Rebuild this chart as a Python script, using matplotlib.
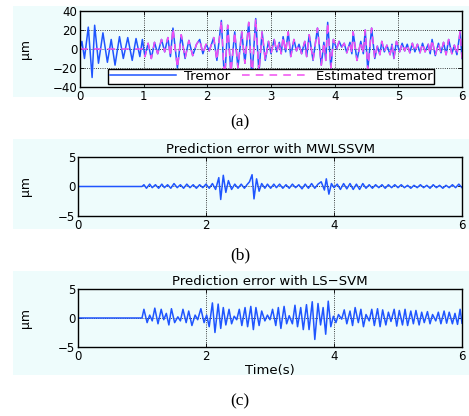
import numpy as np
import matplotlib as mpl
mpl.use("Agg")
import matplotlib.pyplot as plt
from matplotlib.patches import Rectangle

plt.rcParams["font.family"] = ["DejaVu Sans"]

# tremor extrema: time (s), amplitude (um)
tremor_t = [0.00, 0.03, 0.07, 0.13, 0.19, 0.23, 0.29, 0.36, 0.43, 0.49, 0.55, 0.62, 0.68, 0.75,
            0.82, 0.88, 0.94, 0.98, 1.02, 1.07, 1.12, 1.17, 1.22, 1.28, 1.33, 1.38, 1.42, 1.46,
            1.53, 1.59, 1.65, 1.71, 1.77, 1.83, 1.88, 1.93, 1.98, 2.03, 2.10, 2.15, 2.22, 2.27,
            2.32, 2.37, 2.43, 2.48, 2.54, 2.59, 2.65, 2.70, 2.76, 2.81, 2.86, 2.91, 2.96, 3.00,
            3.05, 3.09, 3.13, 3.16, 3.19, 3.23, 3.27, 3.31, 3.36, 3.40, 3.44, 3.48, 3.53, 3.56,
            3.60, 3.66, 3.73, 3.79, 3.83, 3.86, 3.89, 3.94, 3.98, 4.03, 4.07, 4.11, 4.15, 4.19,
            4.24, 4.27, 4.29, 4.35, 4.41, 4.45, 4.48, 4.52, 4.58, 4.63, 4.67, 4.71, 4.74, 4.78,
            4.82, 4.87, 4.90, 4.93, 4.97, 5.02, 5.06, 5.10, 5.14, 5.18, 5.22, 5.26, 5.30, 5.34,
            5.38, 5.42, 5.47, 5.50, 5.53, 5.58, 5.63, 5.67, 5.71, 5.75, 5.79, 5.84, 5.88, 5.92,
            5.97, 6.00]
tremor_v = [0, 8, -10, 23, -30, 25, -15, 17, -14, 10, -17, 13, -10, 12,
            -12, 11, -8, 10, -8, 6, -10, 7, -5, 10, -3, 12, -8, 22,
            -20, 15, -10, 9, -7, 5, 10, -5, 5, -2, 12, -12, 30, -35,
            25, -25, 18, -20, 18, -15, 28, -30, 32, -25, 18, -12, 8, -5,
            10, -3, 7, -5, 13, -3, 18, -8, 10, -2, 5, -5, 8, -8,
            15, -12, 22, -17, 7, -12, 28, -20, 10, 0, 8, 2, 6, -4,
            7, -5, 18, -12, 8, -5, 20, -22, 22, -10, 3, -6, 8, -3,
            4, -6, 5, -10, 8, -3, 6, -2, 5, -4, 6, -3, 5, -4,
            6, -3, 5, -5, 10, -7, 6, -4, 7, -6, 10, -5, 4, -6,
            18, -10]
est_start = 1.0   # estimator output is zero before 1 s

# prediction error, MWLSSVM (panel b)
err_mw_t = [0.00, 1.00, 1.03, 1.07, 1.12, 1.16, 1.21, 1.26, 1.31, 1.35, 1.40, 1.45, 1.50, 1.55,
            1.60, 1.65, 1.70, 1.75, 1.80, 1.85, 1.90, 1.95, 2.00, 2.05, 2.10, 2.15, 2.20, 2.23,
            2.27, 2.31, 2.35, 2.40, 2.45, 2.50, 2.55, 2.60, 2.64, 2.68, 2.72, 2.75, 2.79, 2.83,
            2.87, 2.92, 2.96, 3.01, 3.06, 3.10, 3.15, 3.20, 3.25, 3.30, 3.35, 3.40, 3.45, 3.50,
            3.55, 3.60, 3.65, 3.70, 3.75, 3.80, 3.85, 3.88, 3.92, 3.96, 4.00, 4.05, 4.10, 4.15,
            4.20, 4.25, 4.30, 4.35, 4.40, 4.45, 4.50, 4.55, 4.60, 4.65, 4.70, 4.75, 4.80, 4.85,
            4.90, 4.95, 5.00, 5.05, 5.10, 5.15, 5.20, 5.25, 5.30, 5.35, 5.40, 5.45, 5.50, 5.55,
            5.60, 5.65, 5.70, 5.75, 5.80, 5.85, 5.90, 5.95, 6.00]
err_mw_v = [0, 0, 0.3, -0.3, 0.4, -0.2, 0.3, -0.3, 0.4, -0.2, 0.3, -0.3, 0.5, -0.2,
            0.3, -0.3, 0.4, -0.2, 0.3, -0.3, 0.3, -0.2, 0.4, -0.3, 0.5, -0.5, 1.5, -2.2,
            1.9, -1.0, 1.0, -0.5, 0.4, -0.3, 0.4, -0.3, 0.3, 0.8, 2.0, -2.1, 1.3, -0.8,
            0.5, -0.3, 0.4, -0.3, 0.4, -0.2, 0.4, -0.3, 0.3, -0.3, 0.4, -0.2, 0.3, -0.4,
            0.4, -0.3, 0.5, -0.3, 0.4, 0.8, -0.6, 1.3, -1.3, 0.5, -0.2, 0.4, -0.5, 0.5,
            -0.4, 0.5, -0.5, 0.4, -0.5, 0.5, -0.3, 0.3, -0.3, 0.3, -0.2, 0.3, -0.3, 0.3,
            -0.2, 0.3, -0.2, 0.3, -0.2, 0.2, -0.3, 0.2, -0.2, 0.3, -0.2, 0.2, -0.3, 0.3,
            -0.2, 0.2, -0.3, 0.2, -0.2, 0.3, -0.2, 0.4, -0.2]

# prediction error, LS-SVM (panel c)
err_ls_t = [0.00, 1.00, 1.03, 1.08, 1.12, 1.16, 1.20, 1.25, 1.30, 1.34, 1.38, 1.42, 1.46, 1.51,
            1.56, 1.60, 1.64, 1.69, 1.73, 1.78, 1.83, 1.87, 1.92, 1.97, 2.01, 2.05, 2.10, 2.14,
            2.19, 2.23, 2.27, 2.31, 2.36, 2.40, 2.44, 2.48, 2.52, 2.56, 2.61, 2.65, 2.70, 2.74,
            2.78, 2.83, 2.87, 2.92, 2.96, 3.00, 3.04, 3.09, 3.13, 3.17, 3.22, 3.26, 3.30, 3.35,
            3.39, 3.43, 3.48, 3.52, 3.57, 3.61, 3.66, 3.70, 3.75, 3.79, 3.83, 3.87, 3.91, 3.95,
            3.99, 4.03, 4.07, 4.12, 4.16, 4.20, 4.25, 4.29, 4.33, 4.38, 4.42, 4.46, 4.50, 4.55,
            4.59, 4.63, 4.68, 4.72, 4.76, 4.81, 4.85, 4.89, 4.94, 4.98, 5.02, 5.07, 5.11, 5.15,
            5.20, 5.24, 5.28, 5.33, 5.37, 5.41, 5.46, 5.50, 5.54, 5.59, 5.63, 5.67, 5.72, 5.76,
            5.80, 5.85, 5.89, 5.93, 5.97, 6.00]
err_ls_v = [0, 0, 1.5, -0.8, 0.5, -0.5, 1.7, -1.0, 1.5, -0.3, 0.8, -1.2, 1.6, -0.8,
            0.2, -0.5, 1.5, -0.8, 1.2, -1.3, 0.5, -0.3, 1.6, -0.8, 0.5, -1.5, 2.6, -2.5,
            2.4, -1.8, 1.8, -1.2, 1.5, -1.0, 0.3, -0.3, 1.5, -1.3, 1.8, -1.5, 2.0, -2.0,
            1.8, -1.3, 1.2, -0.5, 0.5, -0.3, 1.5, -1.3, 1.8, -1.8, 2.0, -1.0, 0.4, -1.0,
            2.2, -1.5, 1.8, -2.0, 2.3, -2.0, 2.8, -3.7, 2.5, -1.2, 1.8, -2.8, 2.9, -1.5,
            0.3, -0.8, 0.6, -0.2, 1.4, -1.0, 1.2, -1.3, 1.8, -0.8, 1.5, -1.5, 0.6, -0.5,
            1.5, -1.3, 1.6, -1.5, 1.4, -1.2, 1.0, -0.6, 1.5, -1.4, 1.3, -1.2, 1.5, -1.3,
            1.2, -1.0, 1.3, -1.2, 1.0, -0.8, 1.1, -1.0, 0.6, -0.5, 1.0, -1.0, 1.2, -0.9,
            1.0, -1.0, 0.8, -1.1, 1.5, -0.9]

BG = "#eefcfc"
BLUE = "#1f55ff"
MAG = "#f050f0"
FS = 8.5      # tick labels
FT = 9.5      # titles, legend, xlabel


def style(ax, ylim, yticks, xticks, ylab_x):
    ax.set_facecolor(BG)
    ax.set_xlim(0, 6)
    ax.set_ylim(*ylim)
    ax.set_xticks(xticks)
    ax.set_yticks(yticks)
    ax.tick_params(direction="in", length=3, width=0.6, labelsize=FS, top=True, right=True, pad=2)
    ax.grid(True, linestyle=":", color="black", linewidth=0.6)
    for s in ax.spines.values():
        s.set_linewidth(1.0)
    ax.set_ylabel("\u00b5m", fontsize=FS + 0.5)
    ax.yaxis.set_label_coords(ylab_x, 0.5)


fig = plt.figure(figsize=(4.69, 4.16), dpi=100)
fig.patch.set_facecolor("white")
for y0, h in [(0.7668, 0.2188), (0.4495, 0.2163), (0.0986, 0.2500)]:
    fig.patches.append(Rectangle((0.028, y0), 0.972, h, transform=fig.transFigure,
                                 facecolor=BG, edgecolor="none", zorder=-10))

# (a) tremor and its estimate
tt = np.array(tremor_t)
tv = np.array(tremor_v, dtype=float)
ev = np.where(tt >= est_start, tv, 0.0)
axa = fig.add_axes([0.1706, 0.7909, 0.8145, 0.1827])
style(axa, (-40, 40), [-40, -20, 0, 20, 40], range(7), -0.125)
axa.plot(tt, tv, color=BLUE, lw=1.1, label="Tremor")
axa.plot(tt, ev, color=MAG, lw=1.1, ls=(0, (5, 4)), label="Estimated tremor")
axa.legend(loc="lower center", ncol=2, fontsize=FT, frameon=True, fancybox=False,
           edgecolor="black", facecolor="white", framealpha=1, handlelength=5.0,
           borderpad=0.1, columnspacing=0.9, handletextpad=0.6, borderaxespad=0.1,
           bbox_to_anchor=(0.5, 0.02))

# (b) MWLSSVM error
axb = fig.add_axes([0.1663, 0.4808, 0.8188, 0.1418])
style(axb, (-5, 5), [-5, 0, 5], [0, 2, 4, 6], -0.12)
axb.plot(err_mw_t, err_mw_v, color=BLUE, lw=1.1)
axb.set_title("Prediction error with MWLSSVM", fontsize=FT, pad=3)

# (c) LS-SVM error
axc = fig.add_axes([0.1663, 0.1659, 0.8188, 0.1394])
style(axc, (-5, 5), [-5, 0, 5], [0, 2, 4, 6], -0.12)
axc.plot(err_ls_t, err_ls_v, color=BLUE, lw=1.1)
axc.set_title("Prediction error with LS\u2212SVM", fontsize=FT, pad=3)
axc.set_xlabel("Time(s)", fontsize=FT, labelpad=1)

for y, lab in [(0.705, "(a)"), (0.387, "(b)"), (0.034, "(c)")]:
    fig.text(0.512, y, lab, ha="center", va="center", fontsize=12.5, family="Liberation Serif")

fig.savefig("out.png", dpi=100)
